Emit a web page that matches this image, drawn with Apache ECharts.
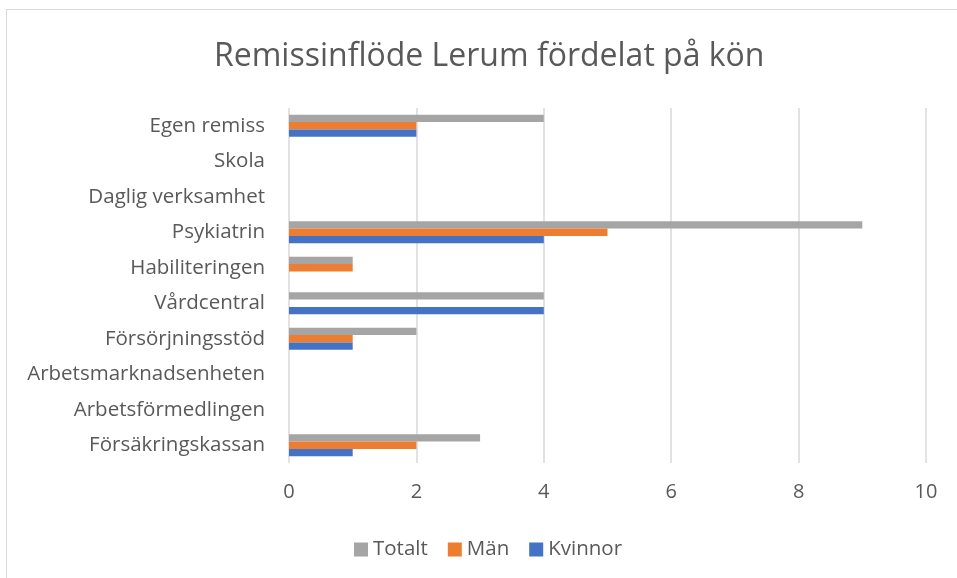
<!DOCTYPE html>
<html>
<head>
<meta charset="utf-8">
<script src="https://cdn.jsdelivr.net/npm/echarts@6/dist/echarts.min.js"></script>
<style>
  html, body { margin: 0; padding: 0; background: #fff; }
  #frame { position: absolute; left: 6px; top: 9px; width: 951px; height: 569px;
           border-left: 1px solid #d9d9d9; border-top: 1px solid #d9d9d9; box-sizing: border-box; }
  #chart { position: absolute; left: 0; top: 0; width: 957px; height: 578px; }
</style>
</head>
<body>
<div id="frame"></div>
<div id="chart"></div>
<script>
// categories listed bottom to top
const categories = ['Försäkringskassan', 'Arbetsförmedlingen', 'Arbetsmarknadsenheten', 'Försörjningsstöd',
  'Vårdcentral', 'Habiliteringen', 'Psykiatrin', 'Daglig verksamhet', 'Skola', 'Egen remiss'];
const kvinnor = [1, 0, 0, 1, 4, 0, 4, 0, 0, 2];
const man = [2, 0, 0, 1, 0, 1, 5, 0, 0, 2];
const totalt = [3, 0, 0, 2, 4, 1, 9, 0, 0, 4];
const legendOrder = ['Totalt', 'Män', 'Kvinnor'];

const font = '"Open Sans", sans-serif';
const chart = echarts.init(document.getElementById('chart'));

chart.setOption({
    animation: false,
    textStyle: { fontFamily: font },
    title: {
        text: 'Remissinflöde Lerum fördelat på kön',
        left: 209,
        top: 36,
        textStyle: { fontSize: 32, fontWeight: 'normal', color: '#595959', fontFamily: font }
    },
    legend: {
        data: legendOrder,
        top: 534,
        left: 349,
        itemWidth: 14,
        itemHeight: 14,
        itemGap: 20,
        icon: 'rect',
        textStyle: { fontSize: 20.5, color: '#595959' }
    },
    grid: { left: 289, right: 31, top: 108, bottom: 115, containLabel: false },
    xAxis: {
        type: 'value',
        min: 0,
        max: 10,
        interval: 2,
        axisLine: { show: false },
        axisTick: { show: false },
        axisLabel: { fontSize: 20, color: '#595959', margin: 19 },
        splitLine: { lineStyle: { color: '#d9d9d9', width: 1.5 } }
    },
    yAxis: {
        type: 'category',
        data: categories,
        axisLine: { show: false },
        axisTick: { show: false },
        axisLabel: { fontSize: 20.5, color: '#595959', margin: 24 }
    },
    series: [
        { name: 'Totalt', type: 'bar', data: totalt, itemStyle: { color: '#a5a5a5' },
          barGap: '0%', barCategoryGap: '38%' },
        { name: 'Män', type: 'bar', data: man, itemStyle: { color: '#ed7d31' },
          barGap: '0%', barCategoryGap: '38%' },
        { name: 'Kvinnor', type: 'bar', data: kvinnor, itemStyle: { color: '#4472c4' },
          barGap: '0%', barCategoryGap: '38%' }
    ]
});
</script>
</body>
</html>
